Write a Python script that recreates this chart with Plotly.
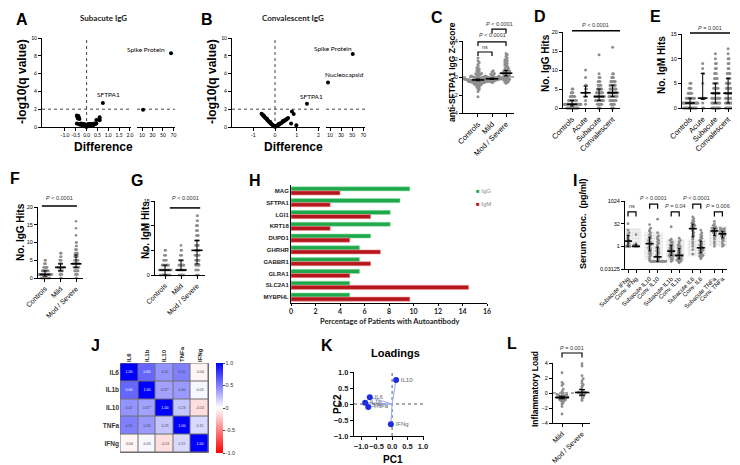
import numpy as np
import plotly.graph_objects as go

W, H = 740, 465
OFF = 8  # the page body margin shifts the figure by this many pixels
SANS = "Liberation Sans, Arial, sans-serif"
CAL = "Lato, Liberation Sans, sans-serif"
PT = "#8e8e8e"

# ===================== DATA =====================
# A: Subacute IgG volcano (difference, -log10 q)
A_diff = [-0.45, -0.38, -0.42, -0.35, -0.40, -0.33, -0.45, -0.38, -0.30, -0.25, -0.20, -0.15, -0.10, -0.05,
          0.00, 0.05, 0.10, 0.15, 0.20, 0.25, 0.30, 0.35, 0.40, 0.45, -0.10, -0.05, 0.00, 0.05, 0.10, -0.15,
          0.15, 0.20, -0.20, 0.45, 0.60, 0.60, 0.60, 0.30, -0.30, 12.0, 65.5, 0.75]
A_q = [1.30, 1.25, 1.10, 1.05, 0.95, 0.90, 0.40, 0.35, 0.35, 0.40, 0.30, 0.35, 0.30, 0.25,
       0.20, 0.30, 0.35, 0.30, 0.35, 0.30, 0.35, 0.40, 0.35, 0.40, 0.10, 0.05, 0.02, 0.08, 0.12, 0.15,
       0.18, 0.20, 0.20, 0.80, 0.90, 1.10, 0.75, 0.15, 0.25, 1.95, 8.3, 2.7]
A_hit_names = ["Spike Protein", "SFTPA1"]
A_hit_diff = [65.5, 0.75]
A_hit_q = [8.3, 2.7]

# B: Convalescent IgG volcano
B_diff = [-0.62, -0.58, -0.55, -0.50, -0.47, -0.44, -0.40, -0.36, -0.33, -0.30, -0.27, -0.24, -0.20, -0.17,
          -0.14, -0.10, -0.07, -0.04, 0.00, 0.03, 0.06, 0.10, 0.13, 0.16, 0.20, 0.23, 0.26, 0.30, 0.33, 0.36,
          0.40, 0.43, 0.46, 0.50, 0.53, 0.56, 0.60, -0.52, -0.38, -0.22, 0.18, 0.38, 0.78, 0.86, 0.74, 0.98,
          51.0, 6.4, 1.47]
B_q = [1.50, 1.40, 1.30, 1.18, 1.10, 1.02, 0.92, 0.82, 0.74, 0.66, 0.58, 0.50, 0.42, 0.35,
       0.28, 0.20, 0.14, 0.08, 0.03, 0.06, 0.10, 0.16, 0.21, 0.26, 0.32, 0.37, 0.42, 0.48, 0.53, 0.58,
       0.65, 0.70, 0.76, 0.82, 0.88, 0.94, 1.00, 1.28, 0.95, 0.55, 0.36, 0.70, 1.75, 1.45, 0.40, 0.20,
       8.2, 5.0, 2.6]
B_hit_names = ["Spike Protein", "Nucleocapsid", "SFTPA1"]
B_hit_diff = [51.0, 6.4, 1.47]
B_hit_q = [8.2, 5.0, 2.6]

# C: anti-SFTPA1 IgG Z-score
C_groups = ["Controls", "Mild", "Mod / Severe"]
C_controls = [-2.2, -1.6, -1.4, -1.3, -1.2, -1.1, -1.0, -1.0, -0.9, -0.9, -0.85, -0.8, -0.8, -0.75, -0.7, -0.7,
              -0.7, -0.65, -0.65, -0.6, -0.6, -0.6, -0.6, -0.55, -0.55, -0.55, -0.5, -0.5, -0.5, -0.5, -0.5,
              -0.45, -0.45, -0.45, -0.45, -0.4, -0.4, -0.4, -0.4, -0.4, -0.35, -0.35, -0.35, -0.35, -0.3, -0.3,
              -0.3, -0.3, -0.3, -0.3, -0.25, -0.25, -0.25, -0.25, -0.2, -0.2, -0.2, -0.2, -0.15, -0.15, -0.15,
              -0.1, -0.1, -0.1, -0.05, -0.05, 0.0, 0.0, 0.05, 0.1, 0.1, 0.15, 0.2, 0.25, 0.3, 0.35, 0.4, 0.5,
              0.6, 0.7, 0.8, 0.9, 1.0, 1.2, 1.4, 1.6, 1.8, 2.1]
C_mild = [-0.6, -0.55, -0.5, -0.45, -0.45, -0.4, -0.4, -0.35, -0.35, -0.3, -0.3, -0.3, -0.25, -0.25, -0.25,
          -0.2, -0.2, -0.2, -0.2, -0.15, -0.15, -0.15, -0.1, -0.1, -0.1, -0.05, -0.05, 0.0, 0.0, 0.05, 0.1,
          0.15, 0.2, 0.3, 0.4, 0.55, 0.7]
C_modsev = [-0.7, -0.6, -0.55, -0.5, -0.45, -0.4, -0.35, -0.3, -0.3, -0.25, -0.2, -0.15, -0.1, -0.05, 0.0,
            0.05, 0.1, 0.15, 0.2, 0.25, 0.3, 0.35, 0.4, 0.4, 0.45, 0.5, 0.55, 0.6, 0.65, 0.7, 0.75, 0.8, 0.9,
            1.0, 1.1, 1.2, 1.3, 1.4, 1.5, 1.6, 1.7, 1.8, 1.9, 2.0, 2.1, 2.3, 2.5, 2.6]
C_pvals = ["ns", "<i>P</i> < 0.0001", "<i>P</i> < 0.0001"]

# D / E: hits by phase
DE_groups = ["Controls", "Acute", "Subacute", "Convalescent"]
D_controls = [0, 0, 0, 0, 0, 0, 0, 0, 0, 0, 0, 0, 0, 0, 1, 1, 1, 1, 1, 1, 1, 1, 1, 1, 1, 1, 1, 1, 1, 1, 1, 1, 1, 1,
              2, 2, 2, 2, 2, 2, 2, 2, 2, 2, 3, 3, 3, 3, 3, 3, 4, 4, 4, 5, 5]
D_acute = [1, 2, 3, 3, 3, 4, 4, 4, 5, 5, 6, 6, 8, 10]
D_subacute = [0, 0, 0, 1, 1, 1, 1, 1, 1, 2, 2, 2, 2, 2, 2, 2, 2, 2, 2, 3, 3, 3, 3, 3, 3, 3, 3, 3, 3, 3, 3,
              4, 4, 4, 4, 4, 4, 4, 4, 5, 5, 5, 5, 5, 5, 6, 6, 6, 6, 7, 7, 7, 8, 8, 9, 14]
D_conv = [0, 0, 0, 1, 1, 1, 1, 1, 2, 2, 2, 2, 2, 2, 2, 2, 3, 3, 3, 3, 3, 3, 3, 3, 3, 3, 4, 4, 4, 4, 4, 4, 4, 4,
          4, 4, 4, 4, 5, 5, 5, 5, 5, 5, 5, 5, 6, 6, 6, 6, 6, 6, 6, 7, 7, 7, 7, 7, 7, 8, 8, 8, 9, 9, 16]
D_pval = "<i>P</i> < 0.0001"
E_controls = [0, 0, 0, 0, 0, 0, 0, 0, 0, 0, 0, 0, 0, 0, 0, 1, 1, 1, 1, 1, 1, 1, 1, 1, 1, 1, 1, 1, 1, 1, 1, 1, 1,
              2, 2, 2, 2, 2, 2, 2, 2, 2, 2, 3, 3, 3, 3, 3, 4, 4, 4, 5, 5]
E_acute = [0, 0, 1, 2, 2, 2, 2, 5, 7, 7, 8, 9]
E_subacute = [0, 0, 0, 0, 0, 0, 0, 0, 0, 0, 1, 1, 1, 1, 1, 1, 1, 1, 1, 1, 2, 2, 2, 2, 2, 2, 2, 2, 2, 2,
              3, 3, 3, 3, 3, 3, 3, 3, 4, 4, 4, 4, 4, 4, 5, 5, 5, 5, 5, 6, 6, 6, 6, 7, 7, 7, 8, 8, 9, 9, 10, 11]
E_conv = [0, 0, 0, 0, 0, 0, 0, 0, 1, 1, 1, 1, 1, 1, 1, 1, 2, 2, 2, 2, 2, 2, 2, 2, 3, 3, 3, 3, 3, 3, 3, 3,
          4, 4, 4, 4, 4, 4, 5, 5, 5, 5, 5, 6, 6, 6, 6, 7, 7, 7, 7, 8, 8, 9, 9, 10, 10, 11, 12]
E_pval = "<i>P</i> = 0.001"

# F / G: hits by severity (controls are the same control group as D / E)
FG_groups = ["Controls", "Mild", "Mod / Severe"]
F_mild = [0, 0, 1, 1, 1, 1, 2, 2, 2, 2, 2, 2, 3, 3, 3, 3, 3, 3, 3, 3, 3, 3, 4, 4, 4, 4, 4, 5, 5, 5, 6, 6, 7, 7]
F_modsev = [0, 0, 1, 1, 1, 1, 2, 2, 2, 2, 2, 2, 3, 3, 3, 3, 3, 3, 3, 3, 4, 4, 4, 4, 4, 4, 4, 4, 4, 4,
            5, 5, 5, 5, 5, 5, 6, 6, 6, 6, 6, 7, 7, 7, 7, 8, 8, 8, 9, 9, 10, 10, 12, 14, 16]
F_pval = "<i>P</i> < 0.0001"
G_mild = [0, 0, 0, 0, 0, 0, 0, 0, 1, 1, 1, 1, 1, 1, 1, 1, 1, 1, 1, 1, 2, 2, 2, 2, 2, 2, 2, 2,
          3, 3, 3, 3, 3, 4, 4, 4, 5, 5, 6]
G_modsev = [0, 0, 0, 0, 1, 1, 1, 1, 1, 2, 2, 2, 2, 2, 2, 3, 3, 3, 3, 3, 3, 4, 4, 4, 4, 4, 4, 4,
            5, 5, 5, 5, 5, 5, 6, 6, 6, 6, 6, 7, 7, 7, 7, 7, 8, 8, 8, 8, 9, 9, 9, 10, 10, 10, 11, 11, 12, 12]
G_pval = "<i>P</i> < 0.0001"

# H: percentage of patients with autoantibody
H_genes = ["MAG", "SFTPA1", "LGI1", "KRT18", "DUPD1", "GHRHR", "GABBR1", "GLRA1", "SLC2A1", "MYBPHL"]
H_igg = [9.7, 8.9, 8.1, 8.1, 6.5, 5.6, 5.6, 5.6, 4.8, 4.8]
H_igm = [4.0, 3.2, 6.5, 3.2, 4.8, 7.3, 6.5, 4.8, 14.5, 9.7]

# I: serum cytokines (pg/ml)
I_groups = ["Subacute IFNg", "Conv. IFNg", "Subacute IL10", "Conv. IL10", "Subacute IL1b", "Conv. IL1b",
            "Subacute IL6", "Conv. IL6", "Subacute TNFa", "Conv. TNFa"]
I_sub_ifng = [32, 12, 8, 6, 5, 4, 3, 2.5, 2, 1.6, 1.3, 1, 1, 1, 1, 1]
I_conv_ifng = [6, 1.5, 1.2, 1, 1, 1, 1]
I_sub_il10 = [28, 16, 12, 10, 8, 6, 5, 4, 3.5, 3, 2.5, 2, 2, 1.6, 1.5, 1.3, 1.2, 1, 0.8, 0.7, 0.6, 0.5, 0.4,
              0.35, 0.3, 0.25, 0.2, 0.15, 0.12]
I_conv_il10 = [64, 8, 5, 4, 3, 2.5, 2, 1.6, 1.3, 1, 0.8, 0.7, 0.6, 0.5, 0.45, 0.4, 0.35, 0.3, 0.25, 0.2, 0.18,
               0.15, 0.13, 0.1, 0.1, 0.1, 0.1, 0.1, 0.1, 0.1, 0.1, 0.1, 0.1, 0.1, 0.1, 0.1, 0.1, 0.1, 0.1]
I_sub_il1b = [20, 3, 2.5, 2, 1.8, 1.5, 1.3, 1.2, 1, 0.9, 0.8, 0.7, 0.6, 0.55, 0.5, 0.45, 0.4, 0.4, 0.35, 0.3,
              0.3, 0.25, 0.25, 0.2, 0.2, 0.18, 0.15, 0.15, 0.12, 0.1]
I_conv_il1b = [3.5, 2.5, 2, 1.5, 1.2, 1, 0.9, 0.8, 0.7, 0.6, 0.5, 0.45, 0.4, 0.35, 0.3, 0.28, 0.25, 0.25, 0.22,
               0.2, 0.2, 0.2, 0.18, 0.16, 0.15, 0.14, 0.13, 0.12, 0.11, 0.1, 0.1, 0.09, 0.08]
I_sub_il6 = [90, 70, 55, 45, 40, 35, 30, 28, 25, 22, 20, 18, 16, 14, 12, 10, 8, 6, 5, 4, 3, 2, 1.5, 1, 0.6, 0.3]
I_conv_il6 = [12, 8, 6, 5, 4, 3.5, 3, 2.5, 2, 1.8, 1.5, 1.3, 1.2, 1, 0.9, 0.8, 0.7, 0.65, 0.6, 0.55, 0.5, 0.45,
              0.4, 0.35, 0.3, 0.28, 0.25, 0.22, 0.2, 0.18, 0.15]
I_sub_tnfa = [45, 30, 25, 20, 18, 16, 15, 14, 13, 12, 11, 10, 9, 8, 7, 6, 5, 4, 3, 2, 1.5, 1]
I_conv_tnfa = [16, 15, 14, 13, 12, 11, 10, 9.5, 9, 8.5, 8, 7.5, 7, 6.5, 6, 5.5, 5, 4.5, 4, 3.5, 3, 2.5, 2,
               1.5, 1.2, 1]
I_box_low = [0.8, 0.13, 0.11, 0.22, 1.0]
I_box_high = [16, 8.5, 2.9, 2.9, 21]
I_pvals = ["ns", "<i>P</i> < 0.0001", "<i>P</i> = 0.04", "<i>P</i> < 0.0001", "<i>P</i> = 0.006"]

# J: cytokine correlation matrix
J_labels = ["IL6", "IL1b", "IL10", "TNFa", "IFNg"]
J_corr = [[1.00, 0.60, 0.42, 0.50, -0.04],
          [0.60, 1.00, 0.37, 0.40, 0.03],
          [0.42, 0.37, 1.00, 0.23, -0.13],
          [0.50, 0.40, 0.23, 1.00, 0.15],
          [-0.04, 0.03, -0.13, 0.15, 1.00]]
J_text = [["1.00", "0.60", "0.42", "0.50", "-0.04"],
          ["0.60", "1.00", "0.37*", "0.40", "0.03"],
          ["0.42", "0.37*", "1.00", "0.23", "-0.13"],
          ["0.50", "0.40", "0.23", "1.00", "0.15"],
          ["-0.04", "0.03", "-0.13", "0.15", "1.00"]]

# K: PCA loadings
K_names = ["IL10", "IL6", "IL1b", "TNFa", "IFNg"]
K_pc1 = [0.13, -0.72, -0.87, -0.77, -0.04]
K_pc2 = [0.75, 0.21, 0.04, -0.09, -0.63]

# L: inflammatory load
L_groups = ["Mild", "Mod / Severe"]
L_mild = [-2.8, -1.8, -1.5, -1.3, -1.2, -1.1, -1.0, -1.0, -0.9, -0.9, -0.85, -0.8, -0.8, -0.75, -0.7, -0.7,
          -0.65, -0.6, -0.6, -0.55, -0.5, -0.5, -0.45, -0.4, -0.4, -0.35, -0.3, -0.25, -0.2, -0.1, 0.0, 0.2,
          0.5, 1.0, 1.2, 1.4, 2.7]
L_modsev = [-1.0, -0.8, -0.6, -0.5, -0.4, -0.3, -0.2, -0.15, -0.1, -0.05, 0.0, 0.0, 0.05, 0.1, 0.2, 0.3,
            0.5, 0.7, 0.9, 1.1, 1.3, 1.6, 1.9, 2.3, 3.6, 3.9]
L_pval = "<i>P</i> = 0.001"

# ===================== HELPERS =====================
traces, annotations, shapes, axes = [], [], [], {}
count = [0]


def PX(p):
    return (p - OFF) / W


def PY(p):
    return 1 - (p - OFF) / H


def tf(size, weight="normal", family=SANS, color="black"):
    return dict(size=size, family=family, color=color, weight=weight)


def base_axis():
    return dict(showgrid=False, zeroline=False, showline=True, linecolor="black", linewidth=1,
                ticks="outside", ticklen=3, tickwidth=1, tickcolor="black", fixedrange=True,
                automargin=False, tickangle=0, tickfont=tf(5.5))


def add_axes(xpx, ypx, xr=None, yr=None, xkw=None, ykw=None, hidden=False):
    count[0] += 1
    n = count[0]
    s = "" if n == 1 else str(n)
    xa, ya = base_axis(), base_axis()
    xa.update(domain=[PX(xpx[0]), PX(xpx[1])], anchor="y" + s)
    ya.update(domain=[PY(ypx[1]), PY(ypx[0])], anchor="x" + s)
    if xr is not None:
        xa["range"] = xr
    if yr is not None:
        ya["range"] = yr
    if xkw:
        xa.update(xkw)
    if ykw:
        ya.update(ykw)
    if hidden:
        xa["visible"] = False
        ya["visible"] = False
    axes["xaxis" + s] = xa
    axes["yaxis" + s] = ya
    return "x" + s, "y" + s


def line(xid, yid, xs, ys, color="black", width=1.0, dash=None):
    traces.append(go.Scatter(x=xs, y=ys, xaxis=xid, yaxis=yid, mode="lines",
                             line=dict(color=color, width=width, dash=dash),
                             showlegend=False, hoverinfo="skip"))


def pts(xid, yid, xs, ys, color=PT, size=3.0):
    traces.append(go.Scatter(x=xs, y=ys, xaxis=xid, yaxis=yid, mode="markers",
                             marker=dict(color=color, size=size, line=dict(width=0)),
                             showlegend=False, hoverinfo="skip", cliponaxis=False))


def note(x, y, t, size=6, family=SANS, color="black", weight="normal", angle=0, xref="paper", yref="paper",
         xanchor="center", yanchor="middle", xshift=0, yshift=0):
    if xref == "paper":
        x = PX(x)
    if yref == "paper":
        y = PY(y)
    annotations.append(dict(x=x, y=y, xref=xref, yref=yref, text=t, showarrow=False, textangle=angle,
                            font=tf(size, weight, family, color), xanchor=xanchor, yanchor=yanchor,
                            xshift=xshift, yshift=yshift))


def swarm(vals, c, dy, dx, log=False):
    xs, ys, cnt = [], [], {}
    for v in sorted(vals):
        key = int(np.floor((np.log2(v) if log else v) / dy + 0.5))
        k = cnt.get(key, 0)
        cnt[key] = k + 1
        off = ((k + 1) // 2) * dx * (1 if k % 2 else -1)
        xs.append(c + off)
        ys.append(v)
    return xs, ys


def median_bar(xid, yid, c, vals, half, mode="iqr", log=False, cap=0.15):
    v = np.log2(vals) if log else np.asarray(vals, float)
    med = np.median(v)
    q1, q3 = np.percentile(v, [25, 75])
    if mode == "ci":
        d = 1.58 * (q3 - q1) / np.sqrt(len(v))
        lo, hi = med - d, med + d
    else:
        lo, hi = q1, q3
    if log:
        med, lo, hi = 2 ** med, 2 ** lo, 2 ** hi
    line(xid, yid, [c - half, c + half], [med, med], width=1.6)
    line(xid, yid, [c, c, None, c - cap, c + cap, None, c - cap, c + cap],
         [lo, hi, None, lo, lo, None, hi, hi], width=1.0)


def dot_axes(xpx, ypx, xr, yr, top_px, centers, labels, yticks, catsize=7.5, log=False, ytext=None):
    ykw = dict(tickvals=yticks)
    if ytext is not None:
        ykw["ticktext"] = ytext
    if log:
        ykw["type"] = "log"
    xm, ym = add_axes(xpx, ypx, xr, yr,
                      xkw=dict(tickvals=centers, ticktext=labels, tickangle=-45, tickfont=tf(catsize)),
                      ykw=ykw)
    scale = (ypx[1] - ypx[0]) / (yr[1] - yr[0])
    top = yr[1] + (ypx[0] - top_px) / scale
    xo, yo = add_axes(xpx, (top_px, ypx[1]), xr, [yr[0], top],
                      ykw=dict(type="log") if log else None, hidden=True)
    return xm, ym, xo, yo


def dot_groups(xm, ym, centers, datasets, dy, dx, size, half, mode="iqr", log=False):
    for c, vals in zip(centers, datasets):
        xs, ys = swarm(vals, c, dy, dx, log)
        pts(xm, ym, xs, ys, size=size)
    for c, vals in zip(centers, datasets):
        median_bar(xm, ym, c, vals, half, mode, log)


def bracket(xid, yid, x0, x1, y, leg, text, ty, size=5.5):
    line(xid, yid, [x0, x0, x1, x1], [y - leg, y, y, y - leg], width=1.2)
    note((x0 + x1) / 2, ty, text, size=size, color="#333", xref=xid, yref=yid)


def volcano(ypx, lpx, lr, ltv, ltt, rpx, rr, diffs, qs, hit_names, hit_d, hit_q, hit_pos):
    xl, yl = add_axes(lpx, ypx, lr, [0, 10], xkw=dict(tickvals=ltv, ticktext=ltt, tickfont=tf(5, family=CAL)),
                      ykw=dict(tickvals=[0, 2, 4, 6, 8, 10], tickfont=tf(5, family=CAL)))
    xr_, yr_ = add_axes(rpx, ypx, rr, [0, 10], xkw=dict(tickvals=[10, 30, 50, 70], tickfont=tf(5, family=CAL)),
                        ykw=dict(visible=False))
    line(xl, yl, [0, 0], [0, 10], color="#444", dash="dot")
    line(xl, yl, lr, [2, 2], color="#444", dash="dot")
    line(xr_, yr_, rr, [2, 2], color="#444", dash="dot")
    ld = [(d, q) for d, q in zip(diffs, qs) if d <= lr[1]]
    rd = [(d, q) for d, q in zip(diffs, qs) if d > lr[1]]
    pts(xl, yl, [d for d, _ in ld], [q for _, q in ld], color="black", size=4)
    pts(xr_, yr_, [d for d, _ in rd], [q for _, q in rd], color="black", size=4)
    for name, d, q, (xa, xs, ys) in zip(hit_names, hit_d, hit_q, hit_pos):
        ax_x, ax_y = (xl, yl) if d <= lr[1] else (xr_, yr_)
        note(d, q, name, size=6.5, family=CAL, xref=ax_x, yref=ax_y, xanchor=xa, xshift=xs, yshift=ys)


# ===================== PANELS =====================
# ---- A ----
volcano((38, 127), (42, 131), [-2.06, 2.05], [-1, -0.5, 0, 0.5, 1, 1.5, 2],
        ["-1.0", "-0.5", "0.0", "0.5", "1.0", "1.5", "2.0"], (137, 175), [0.4, 73],
        A_diff, A_q, A_hit_names, A_hit_diff, A_hit_q, [("right", -4, 4), ("center", 6, 8)])
# ---- B ----
volcano((38, 127), (232, 320), [-1.98, 2.07], [-1, 0, 1, 2], ["-1", "0", "1", "2"], (326, 365), [2.8, 73],
        B_diff, B_q, B_hit_names, B_hit_diff, B_hit_q,
        [("right", 1, 6), ("left", -5, 8), ("center", 5, 7)])

# ---- C ----
c_cent = [0, 1, 2]
xm, ym, xo, yo = dot_axes((463, 514), (41, 113), [-1.07, 2.57], [-4, 4], 18, c_cent, C_groups,
                          [-4, -2, 0, 2, 4], catsize=7.5)
line(xm, ym, [-1.07, 2.57], [0, 0], color="#555", dash="dot")
dot_groups(xm, ym, c_cent, [C_controls, C_mild, C_modsev], 0.3, 0.085, 3, 0.45, mode="ci")
bracket(xo, yo, 0, 1, 2.78, 0.45, C_pvals[0], 3.35)
bracket(xo, yo, 0, 2, 3.9, 0.45, C_pvals[1], 4.67)
bracket(xo, yo, 1, 2, 5.33, 0.5, C_pvals[2], 5.9)

# ---- D ----
d_cent = [0, 1, 2, 3]
xm, ym, xo, yo = dot_axes((563, 620), (32, 108), [-0.67, 3.55], [0, 20], 18, d_cent, DE_groups,
                          [0, 5, 10, 15, 20], catsize=7.5)
dot_groups(xm, ym, d_cent, [D_controls, D_acute, D_subacute, D_conv], 0.5, 0.065, 3, 0.38)
line(xo, yo, [0, 3.55], [20.3, 20.3], width=1.5)
note(1.75, 21.9, D_pval, size=5.5, color="#333", xref=xo, yref=yo)

# ---- E ----
xm, ym, xo, yo = dot_axes((682, 738), (34, 108), [-0.63, 3.78], [0, 15], 20, d_cent, DE_groups,
                          [0, 5, 10, 15], catsize=7.5)
dot_groups(xm, ym, d_cent, [E_controls, E_acute, E_subacute, E_conv], 0.5, 0.07, 3, 0.38)
line(xo, yo, [0, 3.15], [15.2, 15.2], width=1.5)
note(1.57, 16.3, E_pval, size=5.5, color="#333", xref=xo, yref=yo)

# ---- F ----
f_cent = [0, 1, 2]
xm, ym, xo, yo = dot_axes((38, 83), (207, 278), [-0.45, 2.45], [0, 20], 190, f_cent, FG_groups,
                          [0, 5, 10, 15, 20], catsize=7)
dot_groups(xm, ym, f_cent, [D_controls, F_mild, F_modsev], 0.5, 0.045, 2.6, 0.35)
line(xo, yo, [-0.2, 2.06], [20.3, 20.3], width=1.5)
note(0.93, 22.4, F_pval, size=5.5, color="#333", xref=xo, yref=yo)

# ---- G ----
xm, ym, xo, yo = dot_axes((155, 205), (201, 275), [-0.625, 2.5], [0, 15], 190, f_cent, FG_groups,
                          [0, 5, 10, 15], catsize=7)
dot_groups(xm, ym, f_cent, [E_controls, G_mild, G_modsev], 0.5, 0.045, 2.6, 0.35)
line(xo, yo, [0.3, 2.2], [13.6, 13.6], width=1.5)
note(1.25, 15.6, G_pval, size=5.5, color="#333", xref=xo, yref=yo)

# ---- H ----
xh, yh = add_axes((291, 487), (185, 303), [0, 16], None,
                  xkw=dict(dtick=2, tickfont=tf(7, "bold", CAL, "#222"), ticks="outside", ticklen=2),
                  ykw=dict(type="category", autorange="reversed", ticks="", tickfont=tf(6, "bold", SANS, "#222")))
traces.append(go.Bar(y=H_genes, x=H_igg, orientation="h", name="IgG", xaxis=xh, yaxis=yh,
                     marker=dict(color="#1fa84b", line=dict(color="#8fe0a6", width=0.6)), showlegend=False,
                     hoverinfo="skip"))
traces.append(go.Bar(y=H_genes, x=H_igm, orientation="h", name="IgM", xaxis=xh, yaxis=yh,
                     marker=dict(color="#b3171d", line=dict(color="#f09090", width=0.6)), showlegend=False,
                     hoverinfo="skip"))
note(474, 191, "<span style='color:#1fa84b'>\u25A0</span> IgG", size=6, color="#888", xanchor="left")
note(474, 204, "<span style='color:#b3171d'>\u25A0</span> IgM", size=6, color="#888", xanchor="left")
note(390, 321, "Percentage of Patients with Autoantibody", size=7.5, family=CAL, weight="bold", color="#222")

# ---- I ----
i_cent = [i * 2.7 + j for i in range(5) for j in range(2)]
i_pair = [i * 2.7 + 0.5 for i in range(5)]
ylog = [np.log10(0.03125), np.log10(1024)]
xm, ym, xo, yo = dot_axes((625, 727), (201, 269), [-0.375, 12.375], ylog, 192, i_cent, I_groups,
                          [0.03125, 1, 32, 1024], catsize=6, log=True, ytext=["0.03125", "1", "32", "1024"])
traces.append(go.Bar(x=i_pair, y=[h - l for h, l in zip(I_box_high, I_box_low)], base=I_box_low, width=2.3,
                     xaxis=xm, yaxis=ym, showlegend=False, hoverinfo="skip",
                     marker=dict(color="#f3f3f3", line=dict(width=0),
                                 pattern=dict(shape=".", fgcolor="#c4c4c4", size=3, solidity=0.35))))
dot_groups(xm, ym, i_cent, [I_sub_ifng, I_conv_ifng, I_sub_il10, I_conv_il10, I_sub_il1b, I_conv_il1b,
                            I_sub_il6, I_conv_il6, I_sub_tnfa, I_conv_tnfa], 0.55, 0.13, 2.8, 0.5, log=True)
lev = [(7.6, 8.9), (9.3, 10.7), (7.6, 8.9), (9.3, 10.7), (7.6, 8.9)]
for k in range(5):
    yb, yt = lev[k]
    x0 = i_cent[2 * k]
    line(xo, yo, [x0, x0, x0 + 1, x0 + 1], [2 ** (yb - 1), 2 ** yb, 2 ** yb, 2 ** (yb - 1)], width=1.2)
    note(x0 + 0.5, yt * np.log10(2), I_pvals[k], size=5.5, color="#333", xref=xo, yref=yo)

# ---- J ----
xj, yj = add_axes((120, 209), (363, 453), None, None,
                  xkw=dict(side="top", tickangle=-90, ticks="", showline=False, tickfont=tf(6, "bold", SANS, "#222")),
                  ykw=dict(autorange="reversed", ticks="", showline=False, tickfont=tf(6.5, "bold", SANS, "#333")))
shapes.append(dict(type="rect", xref=xj, yref=yj, x0=-0.5, x1=len(J_labels) - 0.5, y0=-0.5,
                   y1=len(J_labels) - 0.5, fillcolor="#6e6e6e", line=dict(color="#6e6e6e", width=1), layer="below"))
traces.append(go.Heatmap(x=J_labels, y=J_labels, z=J_corr, text=J_text, texttemplate="%{text}",
                         textfont=dict(size=3.5, family=SANS), zmin=-1, zmax=1, xgap=1, ygap=1,
                         colorscale=[[0, "#ff0000"], [0.5, "#ffffff"], [1, "#0000ff"]],
                         xaxis=xj, yaxis=yj, hoverinfo="skip",
                         colorbar=dict(x=PX(216), xanchor="left", y=PY(408), yanchor="middle", len=90,
                                       lenmode="pixels", thickness=7, xpad=0, ypad=0, outlinewidth=0,
                                       tickvals=[-1, -0.5, 0, 0.5, 1], ticktext=["-1.0", "-0.5", "0", "0.5", "1.0"],
                                       tickfont=tf(5.5, color="#333"), ticks="outside", ticklen=2)))

# ---- K ----
xk, yk = add_axes((354, 424), (372, 436), [-1.23, 1.03], [-1, 1],
                  xkw=dict(tickvals=[-1, -0.5, 0, 0.5, 1], tickformat=".1f", tickfont=tf(7.5, "bold", SANS, "#222")),
                  ykw=dict(tickvals=[-1, -0.5, 0, 0.5, 1], tickformat=".1f", tickfont=tf(7.5, "bold", SANS, "#222")))
line(xk, yk, [0, 0], [-1, 1], color="#555", dash="dot")
line(xk, yk, [-1.23, 1.03], [0, 0], color="#555", dash="dot")
vx, vy = [], []
for a, b in zip(K_pc1, K_pc2):
    vx += [0, a, None]
    vy += [0, b, None]
line(xk, yk, vx, vy, color="#9fb0f0", width=1.2)
traces.append(go.Scatter(x=K_pc1, y=K_pc2, text=K_names, mode="markers+text", textposition="middle right",
                         textfont=dict(size=6, family=SANS, color="#666"), xaxis=xk, yaxis=yk,
                         marker=dict(color="#1f2fe0", size=6), showlegend=False, hoverinfo="skip",
                         cliponaxis=False))

# ---- L ----
l_cent = [0, 1]
xm, ym, xo, yo = dot_axes((553, 590), (363, 423), [-0.45, 1.4], [-4, 4], 340, l_cent, L_groups,
                          [-4, -2, 0, 2, 4], catsize=7)
line(xm, ym, [-0.45, 1.4], [0, 0], color="#555", dash="dot")
dot_groups(xm, ym, l_cent, [L_mild, L_modsev], 0.35, 0.06, 2.8, 0.35, mode="ci")
bracket(xo, yo, 0, 1, 5.33, 0.6, L_pval, 6.0)

# ===================== TEXT =====================
for letter, x, y in [("A", 22, 20), ("B", 207, 20), ("C", 437, 17), ("D", 540, 16), ("E", 655, 16),
                     ("G", 137, 180), ("H", 255, 180), ("I", 575, 180), ("J", 95, 345),
                     ("K", 327, 345), ("L", 512, 343)]:
    note(x, y, letter, size=16, weight="bold")
note(OFF, 178, "F", size=16, weight="bold", xanchor="left")

note(103, 18, "Subacute IgG", size=8, family=CAL, weight="bold", color="#222")
note(293, 18, "Convalescent IgG", size=8, family=CAL, weight="bold", color="#222")
note(22, 82, "-log10(q value)", size=12, weight="bold", angle=-90)
note(212, 82, "-log10(q value)", size=12, weight="bold", angle=-90)
note(103, 147, "Difference", size=12, weight="bold")
note(293, 147, "Difference", size=12, weight="bold")
note(452, 72, "anti-SFTPA1 IgG Z-score", size=8.5, weight="bold", angle=-90)
note(545, 63, "No. IgG Hits", size=10, weight="bold", angle=-90)
note(662, 65, "No. IgM Hits", size=10, weight="bold", angle=-90)
note(20, 232, "No. IgG Hits", size=10, weight="bold", angle=-90)
note(145, 230, "No. IgM Hits", size=10, weight="bold", angle=-90)
note(583, 224, "Serum Conc.  (pg/ml)", size=9, weight="bold", angle=-90)
note(395, 353, "Loadings", size=11, weight="bold")
note(337, 404, "PC2", size=10, weight="bold", angle=-90)
note(393, 459, "PC1", size=10, weight="bold")
note(535, 389, "Inflammatory Load", size=8.5, weight="bold", angle=-90)

fig = go.Figure(data=traces)
fig.update_layout(width=W, height=H, margin=dict(l=0, r=0, t=0, b=0, pad=0, autoexpand=False),
                  paper_bgcolor="white", plot_bgcolor="rgba(0,0,0,0)", showlegend=False, barmode="group",
                  bargap=0.3, bargroupgap=0, font=dict(family=SANS, color="black"),
                  annotations=annotations, shapes=shapes, **axes)
fig.write_html("out.html")
